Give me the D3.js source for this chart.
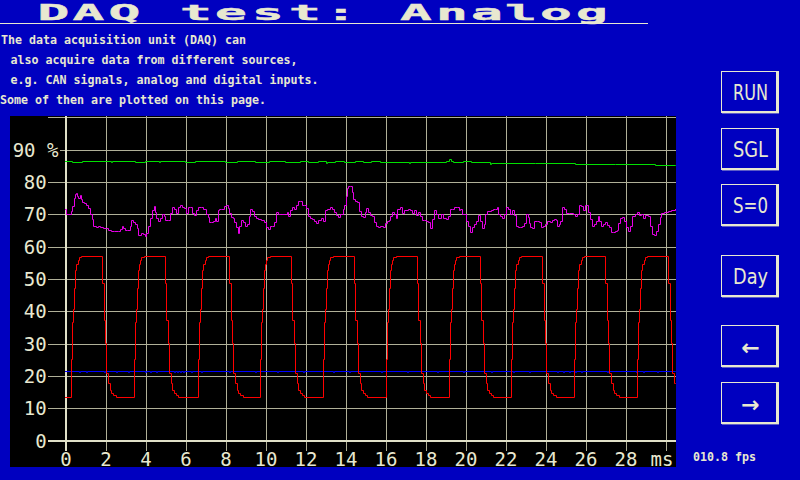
<!DOCTYPE html>
<html><head><meta charset="utf-8">
<script src="https://cdn.jsdelivr.net/npm/d3@7"></script>
<style>html,body{margin:0;padding:0;background:#0000c0;} svg{display:block;}</style>
</head><body><svg id="c" width="800" height="480"></svg>
<script>
// ---------------- data ----------------
const titleText = "DAQ test:  Analog";
const infoLines = [
  "The data acquisition unit (DAQ) can",
  "also acquire data from different sources,",
  "e.g. CAN signals, analog and digital inputs.",
  "Some of then are plotted on this page."
];
const buttonLabels = ["RUN", "SGL", "S=0", "Day", "\u2190", "\u2192"];
const fpsText = "010.8 fps";

const xTickValues = [0, 2, 4, 6, 8, 10, 12, 14, 16, 18, 20, 22, 24, 26, 28, 30];
const xTickLabels = ["0","2","4","6","8","10","12","14","16","18","20","22","24","26","28","ms"];
const yTickValues = [0, 10, 20, 30, 40, 50, 60, 70, 80, 90, 100];
const yTickLabels = ["0","10","20","30","40","50","60","70","80","90 %",""];
const timeEnd = 30.48;

// green trace [ms, %]
const greenSeries = [[0,86.24],[0.37,86.03],[0.83,86.24],[2.3,86.03],[2.35,86.24],[3.5,86.03],[4.0,86.24],[4.7,85.9],[4.75,86.24],[6.0,86.03],[6.5,86.24],[8.0,86.03],[8.6,86.24],[9.5,86.03],[10.2,86.24],[11.0,86.03],[11.73,86.34],[12.14,86.03],[12.64,86.34],[13.06,85.7],[13.1,86.03],[13.52,86.34],[13.97,86.03],[14.48,86.34],[14.89,86.03],[15.31,86.34],[15.73,86.03],[17.2,85.8],[17.25,86.03],[19.06,86.34],[19.2,86.86],[19.31,86.34],[19.39,86.03],[19.89,86.34],[20.31,86.03],[21.23,85.5],[21.31,85.72],[23.5,85.55],[25.5,85.4],[27.5,85.25],[29.5,85.1],[30.48,85.1]];

// magenta trace [ms, %]
const magentaSeries = [[0,71.3],[0.07,69.8],[0.2,69.8],[0.28,70.8],[0.37,72.3],[0.43,74.8],[0.5,76],[0.57,76.3],[0.62,75.6],[0.67,75],[0.73,75.8],[0.8,74.6],[0.87,73.6],[0.97,73.3],[1.07,72.8],[1.17,71.8],[1.27,70],[1.33,68.3],[1.4,66.3],[1.53,66],[1.67,66.3],[1.77,66],[1.9,65.6],[2.03,65.6],[2.17,65],[2.3,64.8],[2.45,64.6],[2.63,64.6],[2.75,65.3],[2.83,66.1],[2.92,65.6],[3.0,65],[3.12,65],[3.23,66.3],[3.3,68.2],[3.4,67.3],[3.5,66.8],[3.6,65.6],[3.67,63.3],[3.78,64],[3.9,63.8],[4.0,63],[4.07,64],[4.17,66.3],[4.27,68.8],[4.37,71],[4.43,72.3],[4.5,70.6],[4.57,68.8],[4.67,67.6],[4.73,68.6],[4.83,69.8],[4.93,69.3],[5.0,68],[5.13,68],[5.23,70.3],[5.33,72],[5.43,71.3],[5.53,70.3],[5.63,72],[5.77,72.6],[5.87,72.1],[5.97,71.8],[6.03,70.3],[6.13,72],[6.23,72],[6.33,70.3],[6.43,69.6],[6.53,71],[6.67,72],[6.78,72],[6.9,71.3],[7.03,69.8],[7.13,69],[7.2,67.3],[7.3,67.3],[7.4,67.6],[7.5,68.8],[7.57,67.6],[7.67,71],
[7.7,71.3],[7.8,71.6],[7.93,72.3],[8.03,72.6],[8.13,71.8],[8.2,70.3],[8.3,69],[8.4,68.6],[8.47,67.3],[8.53,65.8],[8.63,64],[8.7,66.3],[8.8,68],[8.9,67.5],[9.0,66.3],[9.1,66.8],[9.2,69.3],[9.27,71.3],[9.37,70.8],[9.47,69.3],[9.57,68.8],[9.67,68.3],[9.8,68],[9.93,67.3],[10.03,65.8],[10.13,65.3],[10.23,66.3],[10.33,66.3],[10.43,67.3],[10.53,70.6],[10.63,69.8],[10.8,69.8],[11.0,70],[11.1,70.6],[11.17,69.3],[11.27,71],[11.37,72],[11.47,71.6],[11.57,72.8],[11.63,74],[11.73,73.8],[11.83,72.6],[11.97,72.8],[12.07,71.8],[12.13,69.3],[12.23,68.6],[12.33,68.3],[12.47,67.8],[12.57,67],[12.67,68],[12.8,68.6],[12.9,67.8],[13.0,71],[13.1,71.6],[13.23,72],[13.33,71.6],[13.43,70.6],[13.53,69.6],[13.63,69],[13.73,69.8],[13.83,70],[13.9,71.3],[13.97,72.6],[14.03,75.6],[14.1,77.8],[14.17,78.6],[14.27,78.6],[14.33,76.8],[14.4,74.6],[14.5,74],[14.6,73.6],[14.7,70.8],[14.8,69.3],[14.9,69],[15.0,70.6],[15.07,71.8],[15.17,70.6],[15.27,69.6],[15.33,69.3],[15.43,67.3],
[15.53,66.3],[15.63,66],[15.77,66.3],[15.9,66],[16.0,67],[16.1,67.8],[16.2,68],[16.27,69.3],[16.37,70.6],[16.47,70],[16.53,68.8],[16.6,71.6],[16.73,72],[16.83,70.3],[16.97,71],[17.13,71.3],[17.27,71],[17.37,70.3],[17.47,71],[17.53,69.6],[17.63,70.6],[17.73,69.3],[17.83,68],[17.97,68],[18.07,67.6],[18.17,67.3],[18.27,65.6],[18.37,68.3],[18.47,71],[18.57,69.8],[18.67,68.6],[18.8,70],[18.9,68.8],[19.03,68.3],[19.13,69.3],[19.23,71.3],[19.33,71.3],[19.43,72],[19.6,72],[19.7,71],[19.77,71.6],[19.87,70],[19.97,69.8],[20.07,67.8],[20.17,66.3],[20.27,64.3],[20.33,65.8],[20.47,66.8],[20.57,67.8],[20.67,69.6],[20.73,67.8],[20.83,65.6],[20.93,66.8],[21.0,69.8],[21.1,70.8],[21.3,71],[21.4,71.3],[21.5,71.6],[21.6,72],[21.67,69.8],[21.77,69.3],[21.87,68.8],[21.97,69.8],[22.07,72],[22.17,71.3],[22.27,70],[22.37,71],[22.47,69.6],[22.57,66.3],[22.67,66],[22.77,65.8],[22.87,66.3],[22.93,67],[23.03,69.8],[23.13,69],[23.2,67],
[23.27,66],[23.37,65.6],[23.47,67.8],[23.6,67.8],[23.7,67.3],[23.8,66],[23.9,66.3],[24.0,66.8],[24.1,67.6],[24.23,67.3],[24.33,68],[24.43,68.3],[24.53,68],[24.6,66.3],[24.7,66.8],[24.77,67.8],[24.83,72],[24.93,71.3],[25.03,70.3],[25.2,70.3],[25.4,70],[25.5,69.3],[25.6,70],[25.7,72.6],[25.8,72.3],[25.9,71],[26.0,72.6],[26.07,72.6],[26.13,70.6],[26.23,68.3],[26.33,66.3],[26.43,66.8],[26.53,67.6],[26.63,69.3],[26.7,67.8],[26.8,66.3],[26.9,66.8],[27.0,67.3],[27.1,66.6],[27.2,65.8],[27.3,64.3],[27.4,64.3],[27.5,64.6],[27.6,65],[27.67,67],[27.77,68.8],[27.87,69],[27.97,67.8],[28.07,66],[28.17,64.6],[28.27,66.3],[28.37,69.3],[28.5,70],[28.6,70.6],[28.7,69.6],[28.8,70],[28.9,68.8],[29.0,69.6],[29.13,69.3],[29.23,66.3],[29.33,63.8],[29.43,63.3],[29.53,64.6],[29.63,66.8],[29.73,69],[29.8,70.3],[29.93,70.6],[30.07,70.6],[30.17,70.8],[30.3,71],[30.48,71.3]];

// blue trace: steady level with one-sample dips at these times [ms]
const blueLevel = 21.4;
const blueDipLevel = 21.1;
const blueDipTimes = [0.72,1.05,1.97,2.56,3.14,3.98,4.23,4.56,5.45,5.6,5.75,5.9,6.31,6.81,8.2,9.5,10.6,11.9,13.4,14.2,15.8,17.1,18.6,19.9,21.3,22.4,23.2,24.6,24.9,25.2,25.5,25.8,27.1,28.56,28.9,29.6];

// red trace: edges read per cycle [ms] and edge shapes [offset ms, %]
const redStartLevel = 13.3;
const redRiseTimes = [0.31, 3.44, 6.66, 9.74, 12.89, 16.03, 19.18, 22.31, 25.46, 28.61];
const redFallTimes = [1.86, 4.99, 8.21, 11.29, 14.44, 17.58, 20.73, 23.86, 27.01, 30.16];
const redRiseShape = [[0,25],[0.05,36.5],[0.1,40.5],[0.15,47],[0.2,52.6],[0.25,54.4],[0.32,55.7],[0.38,56.5],[0.51,57]];
const redFallShape = [[0,48.7],[0.08,37.1],[0.15,29.9],[0.2,20.6],[0.3,17.5],[0.37,15.5],[0.45,14.5],[0.55,13.8],[0.67,13.3]];

// ---------------- drawing ----------------
const BG = "#0000c0", FG = "#e8e8d0", GRID = "#b0b098", AXIS = "#e0e0c8";
const svg = d3.select("#c");
svg.append("rect").attr("width", 800).attr("height", 480).attr("fill", BG);

// title: wide block glyphs, each character placed at its own centre
const titleCentres = [53.5, 88.5, 124.5, null, 196, 231, 268, 305, 341, null, null, 416, 452, 487, 521, 556, 592];
const titleChars = titleText.split("").map((c, i) => ({c, cx: titleCentres[i]})).filter(d => d.c !== " ");
svg.append("g").selectAll("text").data(titleChars).join("text")
  .attr("transform", d => `translate(${d.cx},19.5) scale(2.4,1)`)
  .attr("text-anchor", "middle")
  .text(d => d.c)
  .attr("font-family", "DejaVu Sans Mono").attr("font-weight", "bold")
  .attr("font-size", 22).attr("fill", FG)
  .attr("stroke", FG).attr("stroke-width", 0.4);
svg.append("rect").attr("x", 0).attr("y", 23).attr("width", 648).attr("height", 1).attr("fill", FG);

// info text
const infoX = [1, 10.5, 10.5, 0], infoY = [44.3, 63.5, 84.3, 104];
svg.selectAll("text.info").data(infoLines).join("text").attr("class", "info")
  .attr("x", (d, i) => infoX[i]).attr("y", (d, i) => infoY[i])
  .text(d => d)
  .attr("font-family", "DejaVu Sans Mono").attr("font-weight", "bold")
  .attr("font-size", 11.63).attr("fill", FG);

// plot panel
const panel = {x0: 10, y0: 116, x1: 676, y1: 467};
svg.append("rect").attr("x", panel.x0).attr("y", panel.y0)
  .attr("width", panel.x1 - panel.x0).attr("height", panel.y1 - panel.y0).attr("fill", "#000");

const x = d3.scaleLinear().domain([0, 30]).range([65.5, 665.5]);
const y = d3.scaleLinear().domain([0, 100]).range([440.5, 117.2]);

// vertical grid via bottom axis
const gx = svg.append("g").attr("transform", "translate(0,116)")
  .call(d3.axisBottom(x).tickValues(xTickValues).tickSize(335).tickSizeOuter(0)
    .tickFormat((d, i) => xTickLabels[i]));
gx.select(".domain").remove();
gx.selectAll(".tick line").attr("stroke", GRID).attr("stroke-width", 1).attr("shape-rendering", "crispEdges");
gx.selectAll(".tick text").attr("y", 350).attr("dy", 0)
  .attr("font-family", "DejaVu Sans Mono").attr("font-size", 19).attr("fill", FG);
gx.selectAll(".tick text").filter(d => d === 30).attr("x", -4);

// horizontal grid via left axis
const gy = svg.append("g").attr("transform", "translate(66,0)")
  .call(d3.axisLeft(y).tickValues(yTickValues).tickSize(0).tickSizeOuter(0)
    .tickFormat((d, i) => yTickLabels[i]));
gy.select(".domain").remove();
gy.selectAll(".tick line")
  .attr("x1", d => d === 90 ? -6 : -18).attr("x2", panel.x1 - 66)
  .attr("stroke", GRID).attr("stroke-width", 1).attr("shape-rendering", "crispEdges");
gy.selectAll(".tick text")
  .attr("x", d => d === 90 ? -7.6 : -19.3).attr("dy", 6.5)
  .attr("text-anchor", "end")
  .attr("font-family", "DejaVu Sans Mono").attr("font-size", 19).attr("fill", FG);

// main axes (brighter, 2px)
svg.append("rect").attr("x", 65).attr("y", 116).attr("width", 2).attr("height", 335).attr("fill", AXIS);
svg.append("rect").attr("x", 48).attr("y", Math.round(y(0)) - 1).attr("width", panel.x1 - 48).attr("height", 2).attr("fill", AXIS);

// traces: snap scaled coordinates to pixel centres for a crisp 1px look
const line = d3.line()
  .x(d => Math.floor(x(d[0])) + 0.5)
  .y(d => Math.floor(y(d[1])) + 0.5)
  .curve(d3.curveStepAfter);

// build red points from per-cycle edges
const redPts = [[0, redStartLevel]];
redRiseTimes.forEach((r, i) => {
  redRiseShape.forEach(p => redPts.push([r + p[0], p[1]]));
  redFallShape.forEach(p => redPts.push([redFallTimes[i] + p[0], p[1]]));
});
const redClipped = redPts.filter(p => p[0] <= timeEnd);
redClipped.push([timeEnd, redClipped[redClipped.length - 1][1]]);

// blue points
const bluePts = [[0, blueLevel]];
blueDipTimes.forEach(t => { bluePts.push([t, blueDipLevel]); bluePts.push([t + 0.05, blueLevel]); });
bluePts.push([timeEnd, blueLevel]);

const traces = [
  {data: greenSeries, color: "#00e000"},
  {data: magentaSeries, color: "#e800e8"},
  {data: bluePts, color: "#0000ff"},
  {data: redClipped, color: "#ff0000"}
];
svg.append("g").selectAll("path").data(traces).join("path")
  .attr("d", d => line(d.data)).attr("fill", "none")
  .attr("stroke", d => d.color).attr("stroke-width", 1)
  .attr("stroke-linecap", "square");

// buttons
const btnTops = [71, 128, 184, 255, 325, 382];
const bg = svg.append("g").selectAll("g").data(buttonLabels).join("g")
  .attr("transform", (d, i) => `translate(721,${btnTops[i]})`);
bg.append("rect").attr("x", 0).attr("y", 0).attr("width", 57).attr("height", 1).attr("fill", FG);
bg.append("rect").attr("x", 0).attr("y", 0).attr("width", 1).attr("height", 42).attr("fill", FG);
bg.append("rect").attr("x", 55).attr("y", 0).attr("width", 3).attr("height", 42).attr("fill", FG);
bg.append("rect").attr("x", 1).attr("y", 40).attr("width", 57).attr("height", 2.4).attr("fill", FG);
bg.each(function(d, i) {
  const g = d3.select(this);
  const isArrow = i >= 4;
  const t = g.append("text").text(d)
    .attr("x", 29.5).attr("y", isArrow ? 30 : 29)
    .attr("text-anchor", "middle")
    .attr("font-family", "DejaVu Sans").attr("fill", FG);
  if (isArrow) {
    t.attr("font-size", 22).attr("font-weight", "bold");
  } else {
    t.attr("font-size", 22).attr("textLength", 35).attr("lengthAdjust", "spacingAndGlyphs");
  }
});

// fps
svg.append("text").text(fpsText).attr("x", 693).attr("y", 461)
  .attr("font-family", "DejaVu Sans Mono").attr("font-weight", "bold")
  .attr("font-size", 11.63).attr("fill", FG);
</script></body></html>
